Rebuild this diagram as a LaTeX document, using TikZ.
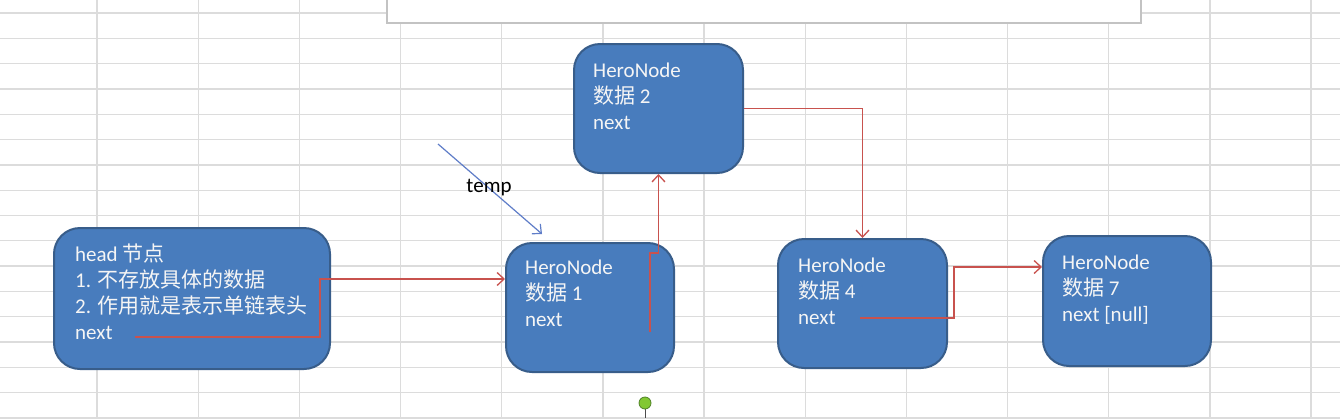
\documentclass[tikz,border=0pt]{standalone}
\usepackage{fontspec}
\setmainfont{Carlito}
\newfontfamily\cjk{Noto Sans CJK SC}
\usetikzlibrary{arrows.meta,calc}
\definecolor{gridc}{RGB}{220,220,220}
\definecolor{boxfill}{RGB}{72,124,189}
\definecolor{boxline}{RGB}{56,93,138}
\definecolor{linkred}{RGB}{200,82,78}
\definecolor{tempblue}{RGB}{95,125,200}
\definecolor{boxtext}{RGB}{245,245,245}
\definecolor{pingreen}{RGB}{130,200,50}
\definecolor{pindark}{RGB}{80,130,40}
\definecolor{panelline}{RGB}{195,195,195}
\begin{document}
\begin{tikzpicture}[x=1pt,y=-1pt,
  gridline/.style={draw=gridc, line width=1.3pt},
  hnode/.style={rectangle, draw=boxline, line width=2pt, fill=boxfill, rounded corners=26pt, inner sep=0pt},
  htext/.style={anchor=north west, inner sep=0pt, align=left, text=boxtext, font=\fontsize{21}{26}\selectfont},
  link/.style={draw=linkred, line width=1.3pt, -{Straight Barb[length=7pt,width=13pt]}},
  templink/.style={draw=tempblue, line width=1.2pt, -{Straight Barb[length=7pt,width=13pt]}},
  lbl/.style={inner sep=0pt, font=\fontsize{21}{26}\selectfont, text=black}
]
\useasboundingbox (0,0) rectangle (1340,418);
\fill[white] (0,0) rectangle (1340,418);
% spreadsheet grid
\foreach \i in {0,...,12} \draw[gridline] ({97+101.17*\i},0) -- ({97+101.17*\i},418);
\foreach \j in {0,...,16} \draw[gridline] (0,{13+25.31*\j}) -- (1340,{13+25.31*\j});
% top panel
\fill[white] (387,-3) rectangle (1141,23);
\draw[panelline, line width=1.3pt] (387,-3) -- (387,23) -- (1141,23) -- (1141,-3);

% boxes
\node[hnode, minimum width=276pt, minimum height=141pt] (h) at (192,298.5) {};
\node[hnode, minimum width=168pt, minimum height=129pt] (n1) at (590,307.5) {};
\node[hnode, minimum width=169pt, minimum height=129pt] (n2) at (658.5,108.5) {};
\node[hnode, minimum width=169pt, minimum height=129pt] (n4) at (862.5,303.5) {};
\node[hnode, minimum width=168pt, minimum height=130pt] (n7) at (1127,301) {};

% texts
\node[htext] (ht) at ($(h.north west)+(22,16)$) {\rule{0pt}{18pt}head {\cjk 节点}\\1. {\cjk 不存放具体的数据}\\2. {\cjk 作用就是表示单链表头}\\next};
\node[htext] (n1t) at ($(n1.north west)+(20,14)$) {\rule{0pt}{18pt}HeroNode\\{\cjk 数据} 1\\next};
\node[htext] (n2t) at ($(n2.north west)+(20,16)$) {\rule{0pt}{18pt}HeroNode\\{\cjk 数据} 2\\next};
\node[htext] (n4t) at ($(n4.north west)+(21,16)$) {\rule{0pt}{18pt}HeroNode\\{\cjk 数据} 4\\next};
\node[htext] (n7t) at ($(n7.north west)+(20,16)$) {\rule{0pt}{18pt}HeroNode\\{\cjk 数据} 7\\next [null]};

% connector points
\coordinate (hout) at (135,337);
\coordinate (hb) at (320,279);
\coordinate (n1out) at (650,332);
\coordinate (b1) at (650,253);
\coordinate (n4out) at (860,318);
\coordinate (b4) at (954,267);
\coordinate (tstart) at (438,144);
\coordinate (tend) at (542,234);

% connectors
\draw[link] (hout) -| (hb) -- (hb -| n1.west);
\draw[link] (n1out) -- (b1) -- (b1 -| n2.south) -- (n2.south);
\draw[link] (n2.east) -| (n4.north);
\draw[link] (n4out) -| (b4) -- (b4 -| n7.west);

% temp pointer
\draw[templink] (tstart) -- (tend);
\node[lbl, anchor=base] (temp) at (489,192) {temp};

% green pin
\draw[gray!60!black, line width=1pt] (645,408) -- (645,418);
\node[circle, fill=pingreen, draw=pindark, line width=0.8pt, minimum size=12pt, inner sep=0pt] (pin) at (645,403) {};
\end{tikzpicture}
\end{document}
